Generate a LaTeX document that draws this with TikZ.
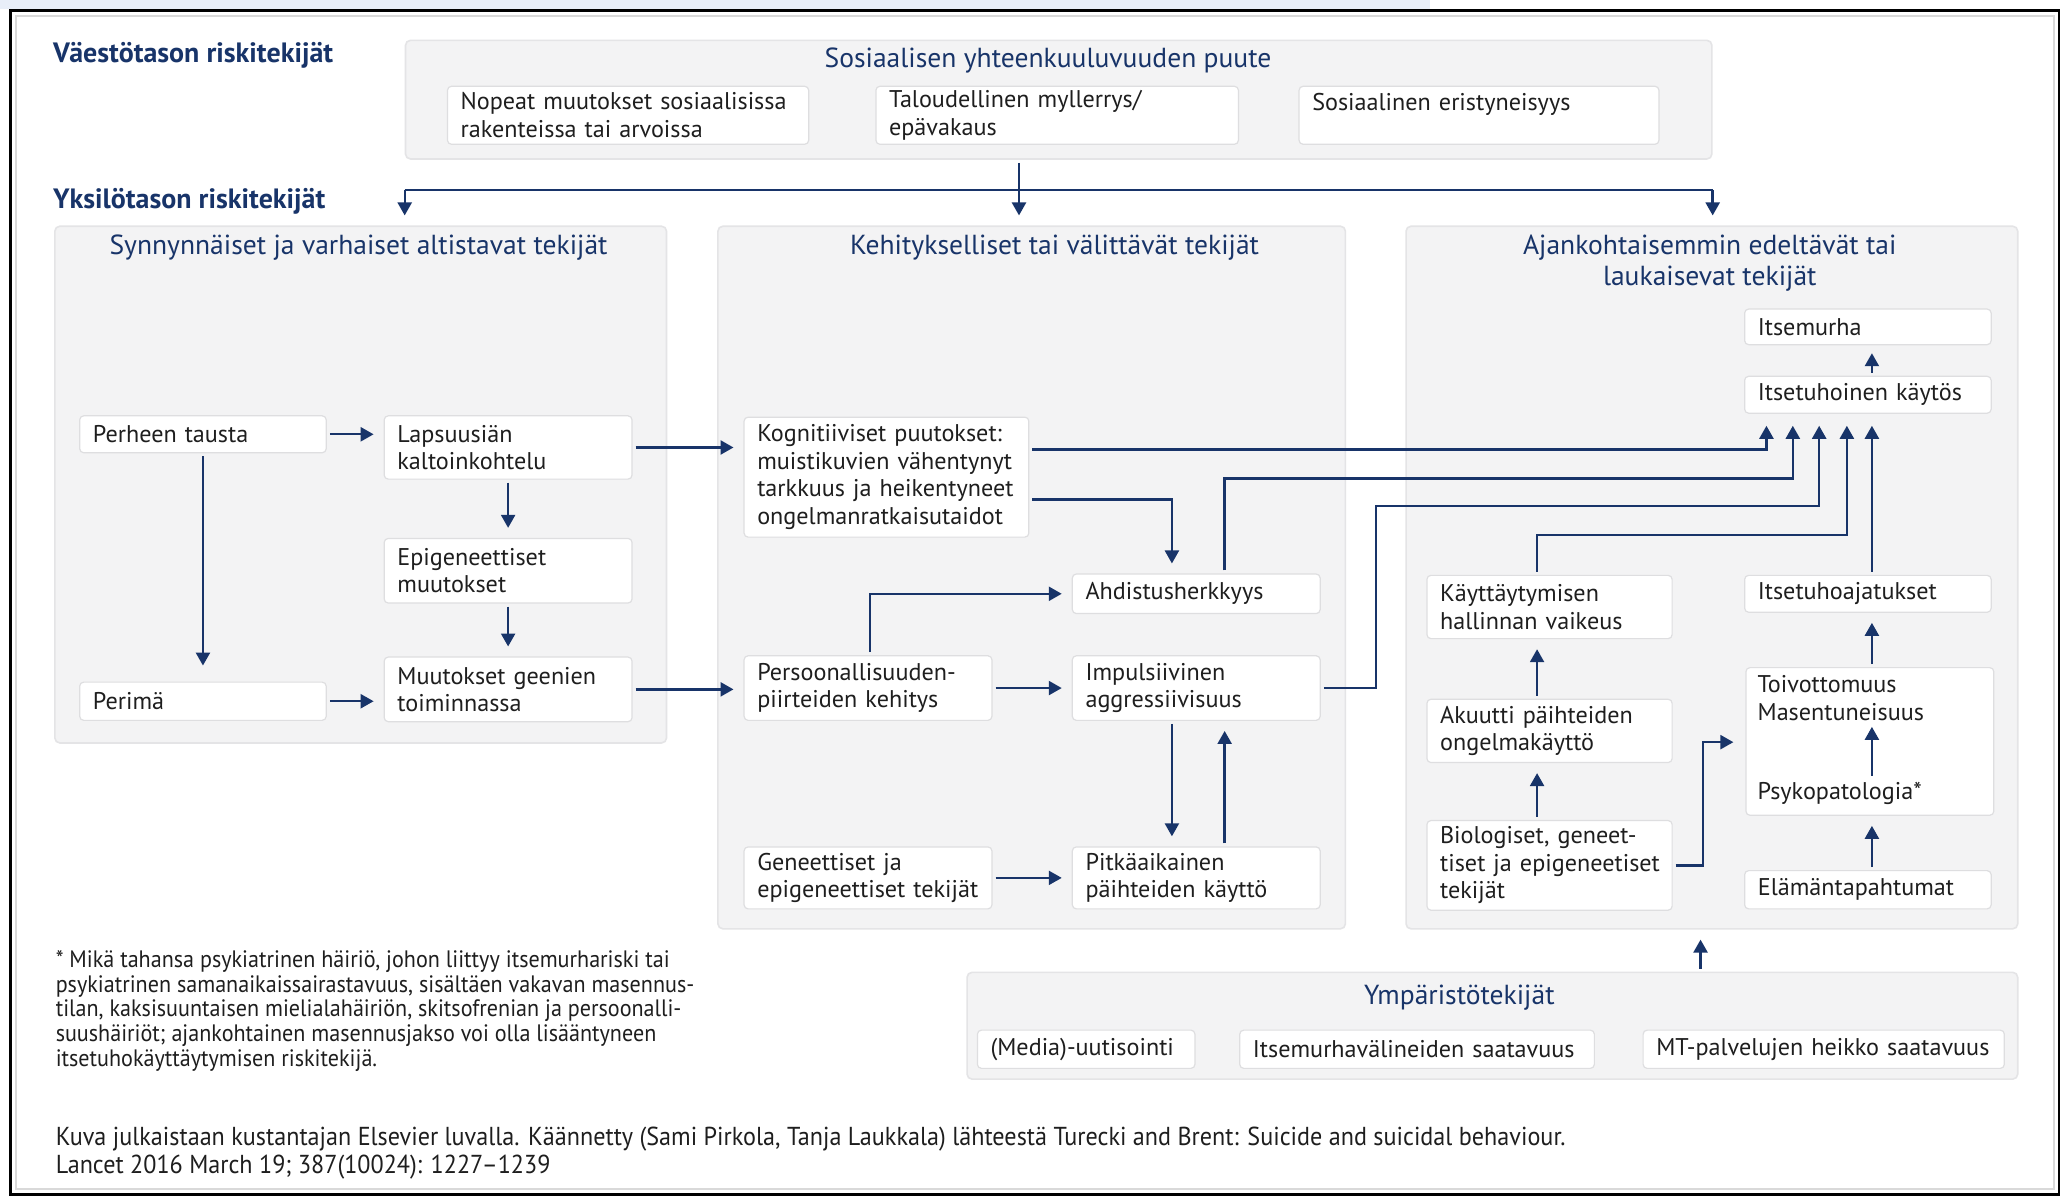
\documentclass[tikz,border=0pt]{standalone}
\usepackage{fontspec}
\setmainfont{PT Sans}
\newfontfamily\condfont[FakeStretch=0.93]{PT Sans}
\usetikzlibrary{arrows.meta}
\definecolor{navy}{RGB}{24,52,105}
\definecolor{grpfill}{RGB}{243,243,244}
\definecolor{grpline}{RGB}{228,228,230}
\definecolor{boxline}{RGB}{222,222,224}
\definecolor{txt}{RGB}{30,30,30}
\definecolor{stripblue}{RGB}{232,238,248}
\newcommand\nohyph{\hyphenpenalty=10000\relax\exhyphenpenalty=10000\relax\hbadness=10000\relax\hfuzz=50pt\relax}
\begin{document}
\begin{tikzpicture}[x=0.66pt, y=-0.66pt,
  sz/.style 2 args={minimum width=#1*0.66pt, minimum height=#2*0.66pt,
     /utils/exec={\pgfmathsetlengthmacro\boxtw{#1*0.66pt-13.2pt}}, text width=\boxtw},
  grp/.style={draw=grpline, fill=grpfill, line width=0.8pt, rounded corners=2.5pt,
     anchor=north west, inner sep=0pt},
  box/.style={draw=boxline, fill=white, line width=0.6pt, rounded corners=2pt,
     anchor=north west, inner xsep=6.6pt, inner ysep=0pt, align=left, text=txt,
     font=\fontsize{12.1}{13.8}\selectfont, execute at begin node=\nohyph},
  gtitle/.style={text=navy, align=center, inner sep=0pt, font=\fontsize{13.8}{15.2}\selectfont},
  head/.style={text=navy, anchor=west, inner sep=0pt, font=\bfseries\fontsize{14}{16}\selectfont},
  plain/.style={text=txt, anchor=west, inner sep=0pt, align=left, font=\fontsize{12.1}{13.8}\selectfont},
  line/.style={navy, line width=1.2pt},
  arr/.style={navy, line width=1.2pt, -{Triangle[length=6.5pt,width=7pt]}, shorten >=5pt, shorten <=1.5pt},
]
\useasboundingbox (0,0) rectangle (1568,908);
\fill[white] (0,0) rectangle (1568,908);
\fill[stripblue] (0,0) rectangle (1085,7);
\draw[gray!30, line width=0.8pt] (12,12) rectangle (1558,902);
\draw[black, line width=1.3pt] (8,8) rectangle (1562,906);

% headings
\node[head] (h1) at (40,42) {Väestötason riskitekijät};
\node[head] (h2) at (40,153) {Yksilötason riskitekijät};

% group boxes
\node[grp, sz={991}{90}] (soc) at (307,30) {};
\node[grp, sz={464}{392}] (leftgrp) at (41,171) {};
\node[grp, sz={476}{533}] (midgrp) at (544,171) {};
\node[grp, sz={464}{533}] (rightgrp) at (1066,171) {};
\node[grp, sz={797}{81}] (env) at (733,737) {};

% group titles
\node[gtitle] (socT) at (795,46) {Sosiaalisen yhteenkuuluvuuden puute};
\node[gtitle] (leftT) at (272,188) {Synnynnäiset ja varhaiset altistavat tekijät};
\node[gtitle] (midT) at (800,188) {Kehitykselliset tai välittävät tekijät};
\node[gtitle] (rightT) at (1297,199.5) {Ajankohtaisemmin edeltävät tai\\laukaisevat tekijät};
\node[gtitle] (envT) at (1107,757) {Ympäristötekijät};

% population level
\node[box, sz={274}{44}] (nopeat) at (339,65) {Nopeat~muutokset~sosiaalisissa\\rakenteissa~tai~arvoissa};
\node[box, sz={275}{44}] (talous) at (664,65) {Taloudellinen~myllerrys/\\epävakaus};
\node[box, sz={273}{44}] (eristys) at (985,65) {Sosiaalinen~eristyneisyys\\\phantom{X}};

% left group
\node[box, sz={187}{28}] (perhe) at (60,315) {Perheen~tausta};
\node[box, sz={188}{48}] (lapsuus) at (291,315) {Lapsuusiän\\kaltoinkohtelu};
\node[box, sz={188}{49}] (epi) at (291,408) {Epigeneettiset\\muutokset};
\node[box, sz={188}{49}] (muutokset) at (291,498) {Muutokset~geenien\\toiminnassa};
\node[box, sz={187}{29}] (perima) at (60,517) {Perimä};

% middle group
\node[box, sz={216}{91}] (kogn) at (564,316) {Kognitiiviset~puutokset:\\muistikuvien~vähentynyt\\tarkkuus~ja~heikentyneet\\ongelmanratkaisutaidot};
\node[box, sz={188}{30}] (ahd) at (813,435) {Ahdistusherkkyys};
\node[box, sz={188}{49}] (pers) at (564,497) {Persoonallisuuden-\\piirteiden~kehitys};
\node[box, sz={188}{49}] (imp) at (813,497) {Impulsiivinen\\aggressiivisuus};
\node[box, sz={188}{47}] (gen) at (564,642) {Geneettiset~ja\\epigeneettiset~tekijät};
\node[box, sz={188}{47}] (pitk) at (813,642) {Pitkäaikainen\\päihteiden~käyttö};

% right group
\node[box, sz={187}{27}] (murha) at (1323,234) {Itsemurha};
\node[box, sz={187}{28}] (kaytos) at (1323,285) {Itsetuhoinen~käytös};
\node[box, sz={186}{48}] (hallinta) at (1082,436) {Käyttäytymisen\\hallinnan~vaikeus};
\node[box, sz={187}{28}] (ajatukset) at (1323,436) {Itsetuhoajatukset};
\node[box, sz={186}{48}] (akuutti) at (1082,530) {Akuutti~päihteiden\\ongelmakäyttö};
\node[box, sz={188}{112}] (toivo) at (1324,506) {};
\node[plain] (tm) at (1333,529.5) {Toivottomuus\\Masentuneisuus};
\node[plain] (pp) at (1333,602) {Psykopatologia*};
\node[box, sz={186}{68}] (bio) at (1082,622) {Biologiset,~geneet-\\tiset~ja~epigeneetiset\\tekijät};
\node[box, sz={187}{29}] (elama) at (1323,660) {Elämäntapahtumat};

% environment
\node[box, sz={165}{29}] (media) at (741,781) {(Media)-uutisointi};
\node[box, sz={269}{29}] (valineet) at (940,781) {Itsemurhavälineiden~saatavuus};
\node[box, sz={274}{29}] (mt) at (1246,781) {MT-palvelujen~heikko~saatavuus};

% footnote and credit
\node[plain, anchor=north west, font=\condfont\fontsize{11.9}{12.3}\selectfont] (fn) at (42,721) {%
* Mikä tahansa psykiatrinen häiriö, johon liittyy itsemurhariski tai\\
psykiatrinen samanaikaissairastavuus, sisältäen vakavan masennus-\\
tilan, kaksisuuntaisen mielialahäiriön, skitsofrenian ja persoonalli-\\
suushäiriöt; ajankohtainen masennusjakso voi olla lisääntyneen\\
itsetuhokäyttäytymisen riskitekijä.};
\node[plain, font=\condfont\fontsize{13}{13.9}\selectfont] (cr) at (42,874.5) {%
Kuva julkaistaan kustantajan Elsevier luvalla. Käännetty (Sami Pirkola, Tanja Laukkala) lähteestä Turecki and Brent: Suicide and suicidal behaviour.\\
Lancet 2016 March 19; 387(10024): 1227–1239};

% lane coordinates
\coordinate (sp) at (773,144);
\coordinate (kc) at (889,379);
\coordinate (cb) at (929,0);
\coordinate (k1) at (1340,341);
\coordinate (k2) at (1360,363);
\coordinate (k3a) at (1044,384);
\coordinate (k3) at (1380,384);
\coordinate (k4) at (1401,406);
\coordinate (hx) at (1166,0);
\coordinate (px) at (660,0);
\coordinate (bt) at (1292,563);
\coordinate (ex) at (1290,0);
\coordinate (tx) at (1420,0);

% population-level connectors
\draw[line] (sp -| soc.west) -- (sp -| soc.east);
\draw[arr] (soc.south -| sp) -- (midgrp.north -| sp);
\draw[arr, shorten <=0pt] (sp -| soc.west) -- (leftgrp.north -| soc.west);
\draw[arr, shorten <=0pt] (sp -| soc.east) -- (rightgrp.north -| soc.east);

% left group connectors
\draw[arr] (perhe.east) -- (perhe.east -| lapsuus.west);
\draw[arr, shorten >=8pt] (perhe.south) -- (perima.north);
\draw[arr] (lapsuus.south) -- (epi.north);
\draw[arr] (epi.south) -- (muutokset.north);
\draw[arr] (perima.east) -- (perima.east -| muutokset.west);
\draw[arr] (lapsuus.east) -- (lapsuus.east -| kogn.west);
\draw[arr] (muutokset.east) -- (muutokset.east -| pers.west);

% middle group connectors
\draw[arr] (kogn.east |- kc) -| (ahd.north -| kc);
\draw[arr] (pers.north -| px) |- (ahd.west);
\draw[arr] (pers.east) -- (pers.east -| imp.west);
\draw[arr] (imp.south -| kc) -- (pitk.north -| kc);
\draw[arr] (pitk.north -| cb) -- (imp.south -| cb);
\draw[arr] (gen.east) -- (gen.east -| pitk.west);

% to self-destructive behaviour
\draw[arr, shorten >=6pt] (kogn.east |- k1) -| (kaytos.south -| k1);
\draw[arr, shorten >=6pt] (ahd.north -| cb) |- (k2) -- (kaytos.south -| k2);
\draw[arr, shorten >=6pt] (imp.east) -| (k3a) -- (k3) -- (kaytos.south -| k3);
\draw[arr, shorten >=6pt] (hallinta.north -| hx) |- (k4) -- (kaytos.south -| k4);
\draw[arr, shorten >=6pt] (ajatukset.north -| tx) -- (kaytos.south -| tx);
\draw[arr, shorten >=4pt] (kaytos.north -| tx) -- (murha.south -| tx);

% right group connectors
\draw[arr] (toivo.north -| tx) -- (ajatukset.south -| tx);
\draw[arr, shorten >=3pt, shorten <=3pt] (pp.north -| tx) -- (tm.south -| tx);
\draw[arr] (elama.north -| tx) -- (toivo.south -| tx);
\draw[arr] (akuutti.north -| hx) -- (hallinta.south -| hx);
\draw[arr] (bio.north -| hx) -- (akuutti.south -| hx);
\draw[arr, shorten >=6pt] (bio.east) -| (bt) -- (bt -| toivo.west);

% environment
\draw[arr] (env.north -| ex) -- (rightgrp.south -| ex);
\end{tikzpicture}
\end{document}
